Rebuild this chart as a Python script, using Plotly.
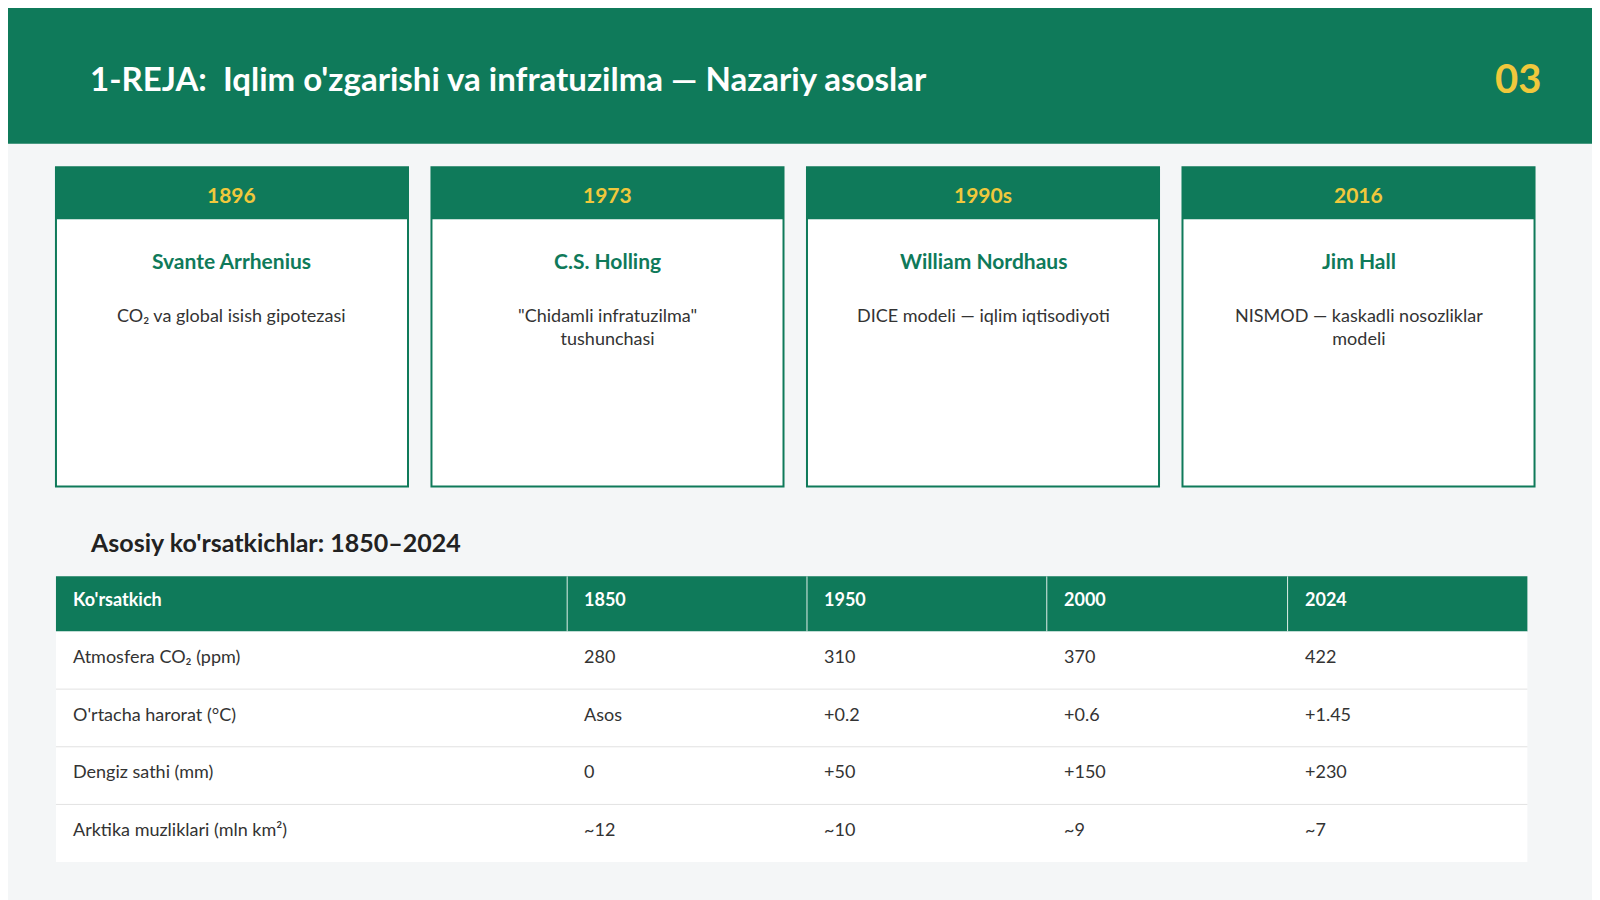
import plotly.graph_objects as go

years = ["1896", "1973", "1990s", "2016"]
names = ["Svante Arrhenius", "C.S. Holling", "William Nordhaus", "Jim Hall"]
descs = ["CO₂ va global isish gipotezasi", "\"Chidamli infratuzilma\"<br>tushunchasi",
         "DICE modeli — iqlim iqtisodiyoti", "NISMOD — kaskadli nosozliklar<br>modeli"]
columns = ["Ko'rsatkich", "1850", "1950", "2000", "2024"]
indicators = ["Atmosfera CO₂ (ppm)", "O'rtacha harorat (°C)", "Dengiz sathi (mm)", "Arktika muzliklari (mln km²)"]
v1850 = ["280", "Asos", "0", "~12"]
v1950 = ["310", "+0.2", "+50", "~10"]
v2000 = ["370", "+0.6", "+150", "~9"]
v2024 = ["422", "+1.45", "+230", "~7"]

G = "#0f7a5a"; Y = "#f0c83c"; F = "Lato, Open Sans, sans-serif"
W, H = 1568, 882
shapes, ann = [], []
def rect(x0, y0, x1, y1, fill, line=None, lw=0):
    shapes.append(dict(type="rect", x0=x0, y0=y0, x1=x1, y1=y1, fillcolor=fill,
                       line=dict(color=line or fill, width=lw), layer="below"))
def text(x, y, s, size, color, bold=False, xa="left"):
    ann.append(dict(x=x, y=y, text=f"<b>{s}</b>" if bold else s, showarrow=False, xanchor=xa,
                    yanchor="middle", font=dict(family=F, size=size, color=color)))

rect(0, 0, W, 133, G)
text(78, 69, "1-REJA:  Iqlim o'zgarishi va infratuzilma — Nazariy asoslar", 33, "white", True)
text(1504, 69, "03", 40, Y, True, "right")

for i, (yr, nm, ds) in enumerate(zip(years, names, descs)):
    x0 = 47 + i * 368; x1 = x0 + 345; cx = (x0 + x1) / 2
    rect(x0, 156, x1, 469, "white", G, 2)
    rect(x0, 156, x1, 207, G)
    text(cx, 183, yr, 21, Y, True, "center")
    text(cx, 247, nm, 21, G, True, "center")
    ann.append(dict(x=cx, y=288, text=ds, showarrow=False, xanchor="center", yanchor="top",
                    font=dict(family=F, size=18, color="#333"), align="center"))

text(78, 523, "Asosiy ko'rsatkichlar: 1850–2024", 25, "#222", True)

cx = [47, 548, 783, 1018, 1254, 1489]
rect(47, 557, 1489, 611, G)
for j, c in enumerate(columns):
    text(cx[j] + 15, 579, c, 18, "white", True)
    if j > 0:
        shapes.append(dict(type="line", x0=cx[j], x1=cx[j], y0=557, y1=611, line=dict(color="#dfeee8", width=1)))
rows = list(zip(indicators, v1850, v1950, v2000, v2024))
for r, row in enumerate(rows):
    y0 = 611 + r * 56.5
    rect(47, y0, 1489, y0 + 56.5, "white")
    if r < len(rows) - 1:
        shapes.append(dict(type="line", x0=47, x1=1489, y0=y0 + 56.5, y1=y0 + 56.5, line=dict(color="#e2e2e2", width=1)))
    for j, v in enumerate(row):
        text(cx[j] + 15, y0 + 24, v, 18, "#333")

fig = go.Figure()
fig.update_layout(width=1600, height=900, margin=dict(l=0, r=0, t=0, b=0),
                  paper_bgcolor="#f4f6f7", plot_bgcolor="#f4f6f7",
                  xaxis=dict(range=[0, W], visible=False, fixedrange=True),
                  yaxis=dict(range=[H, 0], visible=False, fixedrange=True),
                  shapes=shapes, annotations=ann, showlegend=False)
fig.write_html("out.html")
